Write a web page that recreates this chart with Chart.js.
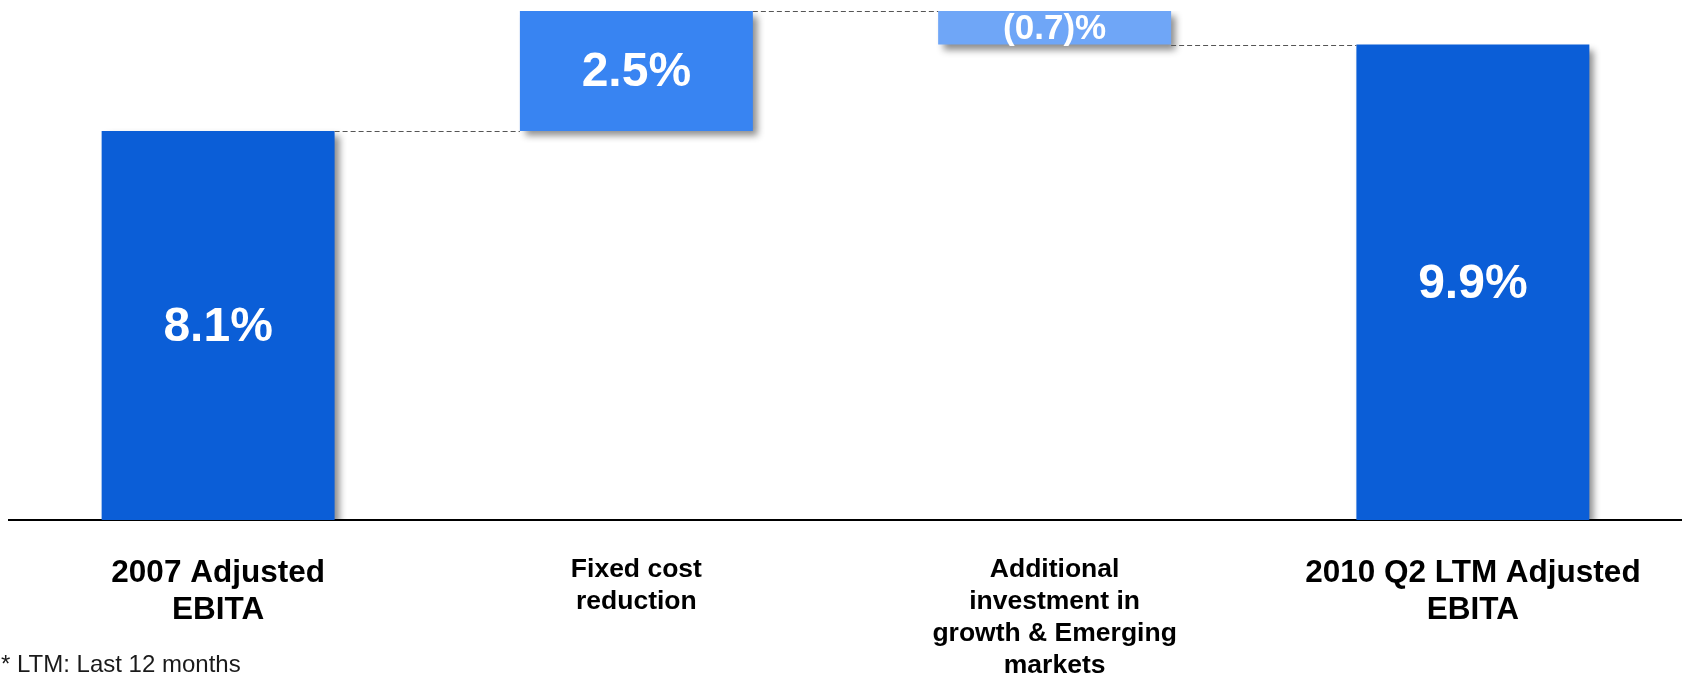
<!DOCTYPE html>
<html>
<head>
<meta charset="utf-8">
<script src="https://cdn.jsdelivr.net/npm/chart.js@4"></script>
<style>
  html, body { margin: 0; padding: 0; background: #ffffff; }
  #wrap { position: relative; width: 1682px; height: 674px; }
  canvas { display: block; }
</style>
</head>
<body>
<div id="wrap"><canvas id="chart" width="1682" height="674"></canvas></div>
<script>
// Bridge categories (multi-line axis labels)
const categories = [
  ['2007 Adjusted', 'EBITA'],
  ['Fixed cost', 'reduction'],
  ['Additional', 'investment in', 'growth & Emerging', 'markets'],
  ['2010 Q2 LTM Adjusted', 'EBITA']
];
// Step values in percentage points: totals and changes
const stepValues = [8.1, 2.5, -0.7, 9.9];
const isTotal = [true, false, false, true];
// Text shown inside each bar
const valueLabels = ['8.1%', '2.5%', '(0.7)%', '9.9%'];
const barColors = ['#0B5ED7', '#3884F2', '#6FA6F7', '#0B5ED7'];
const footnote = '* LTM: Last 12 months';

// Floating [start, end] ranges for the waterfall
const ranges = [];
let running = 0;
stepValues.forEach((v, i) => {
  if (isTotal[i]) { ranges.push([0, v]); running = v; }
  else { ranges.push([running, running + v]); running += v; }
});

const FONT = '"Liberation Sans", Arial, sans-serif';

const waterfallDecor = {
  id: 'waterfallDecor',
  beforeDatasetsDraw(chart) {
    const ctx = chart.ctx;
    ctx.save();
    ctx.shadowColor = 'rgba(0,0,0,0.45)';
    ctx.shadowBlur = 7;
    ctx.shadowOffsetX = 5;
    ctx.shadowOffsetY = 5;
  },
  afterDatasetsDraw(chart) {
    const ctx = chart.ctx;
    ctx.restore();
    const meta = chart.getDatasetMeta(0);
    const y = chart.scales.y;
    // dashed connectors between neighbouring bars
    ctx.save();
    ctx.strokeStyle = '#555555';
    ctx.lineWidth = 1;
    ctx.setLineDash([5, 3]);
    for (let i = 0; i < meta.data.length - 1; i++) {
      const a = meta.data[i], b = meta.data[i + 1];
      const level = ranges[i][1];
      const py = Math.round(y.getPixelForValue(level)) + 0.5;
      ctx.beginPath();
      ctx.moveTo(a.x + a.width / 2, py);
      ctx.lineTo(b.x - b.width / 2, py);
      ctx.stroke();
    }
    ctx.restore();
    // value labels inside the bars, shrunk to fit short bars
    ctx.save();
    ctx.fillStyle = '#ffffff';
    ctx.textAlign = 'center';
    ctx.textBaseline = 'middle';
    meta.data.forEach((el, i) => {
      const h = Math.abs(el.base - el.y);
      const size = Math.min(48, Math.floor(h * 1.05));
      ctx.font = 'bold ' + size + 'px ' + FONT;
      ctx.fillText(valueLabels[i], el.x, (el.y + el.base) / 2 + 2);
    });
    ctx.restore();
  },
  afterDraw(chart) {
    const ctx = chart.ctx;
    ctx.save();
    ctx.fillStyle = '#1a1a1a';
    ctx.font = '24px ' + FONT;
    ctx.textAlign = 'left';
    ctx.textBaseline = 'middle';
    ctx.fillText(footnote, 1, 665);
    ctx.restore();
  }
};

new Chart(document.getElementById('chart'), {
  type: 'bar',
  data: {
    labels: categories,
    datasets: [{
      data: ranges,
      backgroundColor: barColors,
      borderWidth: 0,
      barPercentage: 0.557,
      categoryPercentage: 1,
      clip: { left: 20, right: 20, top: 0, bottom: 0 }
    }]
  },
  options: {
    responsive: false,
    devicePixelRatio: 1,
    animation: false,
    layout: { padding: { top: 11, left: 9, right: 0, bottom: 0 } },
    plugins: {
      legend: { display: false },
      tooltip: { enabled: false },
      title: { display: false }
    },
    scales: {
      x: {
        grid: { display: false, drawTicks: false },
        border: { display: true, color: '#000000', width: 2 },
        ticks: {
          color: '#000000',
          padding: 34,
          maxRotation: 0,
          autoSkip: false,
          font: (c) => (isTotal[c.index]
            ? { family: FONT, size: 31.5, weight: 'bold', lineHeight: 1.2 }
            : { family: FONT, size: 26.5, weight: 'bold', lineHeight: 1.2 })
        },
        afterFit(scale) { scale.height = 154; }
      },
      y: {
        display: false,
        min: 0,
        max: 10.6
      }
    }
  },
  plugins: [waterfallDecor]
});
</script>
</body>
</html>
